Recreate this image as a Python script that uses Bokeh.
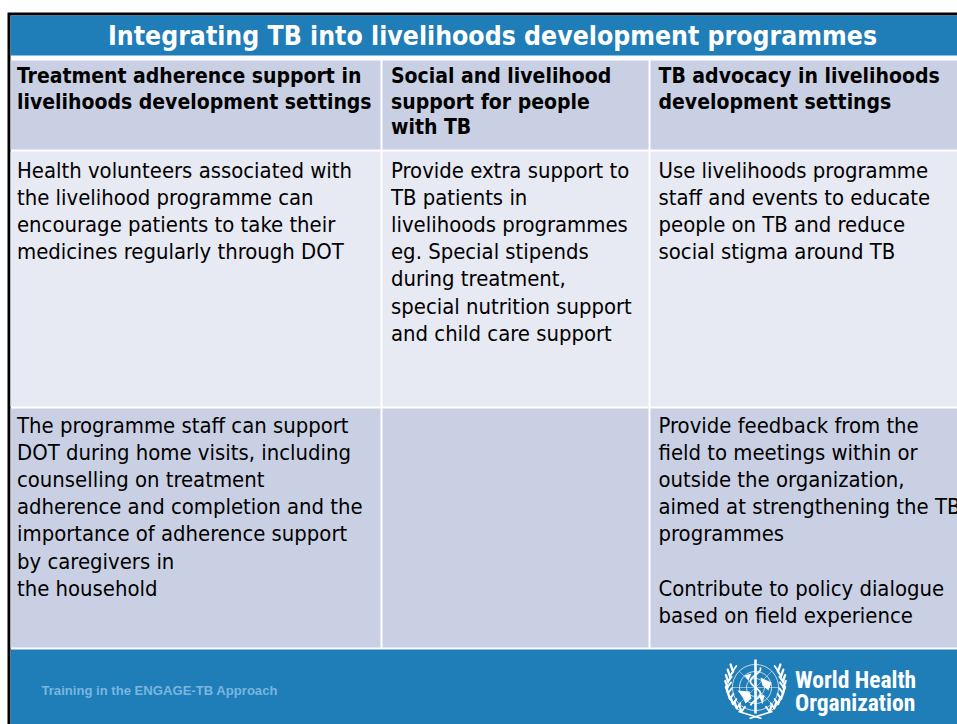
import numpy as np
from bokeh.plotting import figure
from bokeh.models import Range1d
from bokeh.core.properties import value
from bokeh.embed import file_html
from bokeh.resources import INLINE

title = "Integrating TB into livelihoods development programmes"
headers = [
    ["Treatment adherence support in", "livelihoods development settings"],
    ["Social and livelihood", "support for people", "with TB"],
    ["TB advocacy in livelihoods", "development settings"],
]
row1 = [
    ["Health volunteers associated with", "the livelihood programme can",
     "encourage patients to take their", "medicines regularly through DOT"],
    ["Provide extra support to", "TB patients in", "livelihoods programmes",
     "eg. Special stipends", "during treatment,", "special nutrition support",
     "and child care support"],
    ["Use livelihoods programme", "staff and events to educate",
     "people on TB and reduce", "social stigma around TB"],
]
row2 = [
    ["The programme staff can support", "DOT during home visits, including",
     "counselling on treatment", "adherence and completion and the",
     "importance of adherence support", "by caregivers in", "the household"],
    [],
    ["Provide feedback from the", "field to meetings within or",
     "outside the organization,", "aimed at strengthening the TB",
     "programmes", "", "Contribute to policy dialogue",
     "based on field experience"],
]
footer = "Training in the ENGAGE-TB Approach"
org = ["World Health", "Organization"]

BLUE, DARK, LIGHT = "#1f7db7", "#cad0e4", "#e7e9f3"
FONT = "DejaVu Sans Condensed"
col_x = [(10, 380), (382, 648), (650, 957)]
text_x = [16.5, 390.5, 658]

p = figure(width=957, height=724, output_backend="svg", toolbar_location=None,
           x_range=Range1d(0, 957), y_range=Range1d(724, 0),
           min_border=0, outline_line_color=None, background_fill_color="white")
p.xaxis.visible = False
p.yaxis.visible = False
p.grid.visible = False

def band(l, r, t, b, c):
    p.quad(left=[l], right=[r], top=[t], bottom=[b], fill_color=c, line_color=None)

band(7, 957, 12, 724, "black")
band(10, 957, 15, 724, "white")
band(10, 957, 15, 55, BLUE)
band(10, 957, 649, 724, BLUE)
for (l, r) in col_x:
    band(l, r, 60, 149, DARK)
    band(l, r, 151, 406, LIGHT)
    band(l, r, 408, 647, DARK)

def lines(x, y0, pitch, items, size, style="normal", color="black", font=FONT, align="left"):
    xs, ys, ts = [], [], []
    for i, t in enumerate(items):
        if t:
            xs.append(x); ys.append(y0 + i * pitch); ts.append(t)
    if ts:
        p.text(x=xs, y=ys, text=ts, text_font=value(font), text_font_size=size,
               text_font_style=style, text_color=color, text_align=align,
               text_baseline="alphabetic")

lines(492, 35, 0, [title], "26.4px", "bold", "white", align="center")
for i in range(3):
    lines(text_x[i], 75.5, 25.5, headers[i], "21px", "bold")
    lines(text_x[i], 170, 27.1, row1[i], "21.9px")
    lines(text_x[i], 425, 27.1, row2[i], "21.9px")

lines(41, 690, 0, [footer], "13.1px", "bold", "#79b6e0", font="Liberation Sans")
lines(794.5, 679, 23, org, "23.5px", "bold", "white",
      font="Roboto Condensed, Noto Sans Condensed, Open Sans Condensed, Liberation Sans Narrow, Lato")

# WHO emblem
cx, cy = 755, 687
ang = np.linspace(0, 2 * np.pi, 80)
for r in (23, 16, 9):
    p.line(cx + r * np.cos(ang), cy + r * np.sin(ang), line_color="white", line_width=0.9, line_alpha=0.85)
for a in (0, 45, 90, 135):
    t = np.radians(a)
    p.line([cx - 23 * np.cos(t), cx + 23 * np.cos(t)], [cy - 23 * np.sin(t), cy + 23 * np.sin(t)],
           line_color="white", line_width=0.6, line_alpha=0.8)
p.patch([cx - 18, cx - 6, cx - 4, cx - 10, cx - 13], [cy + 3, cy + 4, cy + 11, cy + 16, cy + 9],
        fill_color="white", line_color=None)
p.patch([cx + 5, cx + 16, cx + 13, cx + 7], [cy - 10, cy - 5, cy + 3, cy - 2],
        fill_color="white", line_color=None)
p.patch([cx + 3, cx + 9, cx + 7], [cy + 7, cy + 8, cy + 17], fill_color="white", line_color=None)
p.patch([cx - 11, cx - 4, cx - 7], [cy - 12, cy - 14, cy - 7], fill_color="white", line_color=None)
p.line([cx, cx], [cy - 28, cy + 26], line_color="white", line_width=2.6)
ty = np.linspace(cy - 20, cy + 18, 60)
p.line(cx + 5 * np.sin((ty - cy) / 4), ty, line_color="white", line_width=1.8)
for sgn in (-1, 1):
    phis = np.radians(np.arange(-36, 72, 12))
    sx = cx + sgn * 28 * np.cos(phis)
    sy = cy + 28 * np.sin(phis)
    p.line(sx, sy, line_color="white", line_width=1)
    p.segment(sx, sy, sx + sgn * 2.2, sy - 6.5,
              line_color="white", line_width=2.3, line_cap="round")
    p.segment(sx, sy, sx - sgn * 3.5, sy - 5,
              line_color="white", line_width=1.8, line_cap="round")
    p.line([cx + sgn * 17, cx - sgn * 6], [cy + 24, cy + 31], line_color="white", line_width=1.6)

open("out.html", "w").write(file_html(p, INLINE))
